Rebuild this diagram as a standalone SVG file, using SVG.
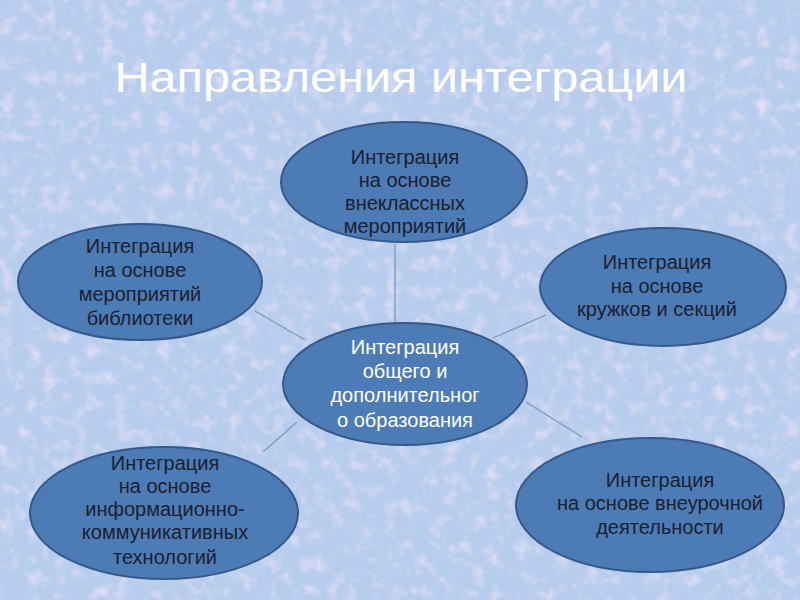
<svg xmlns="http://www.w3.org/2000/svg" width="800" height="600" viewBox="0 0 800 600">
<defs>
<filter id="tex" x="0" y="0" width="100%" height="100%">
<feTurbulence type="fractalNoise" baseFrequency="0.07" numOctaves="3" seed="7" result="n"/>
<feColorMatrix in="n" type="matrix" values="0 0 0 0 0.80  0 0 0 0 0.75  0 0 0 0 0.92  1.4 0 -1.4 0 0.0" result="pink"/>
<feComposite in="pink" in2="SourceGraphic" operator="over"/>
</filter>
<style>
.n ellipse{fill:#4c7bb6;stroke:#36598a;stroke-width:2}
.n text{font-family:"Liberation Sans",Arial,sans-serif;font-size:20px;text-anchor:middle;fill:#1c2030}
#center text{fill:#ffffff}
.c line{stroke:#7f98b8;stroke-width:1.3}
.title{font-family:"Liberation Sans",Arial,sans-serif;font-size:43px;fill:#ffffff;text-anchor:middle}
</style>
</defs>
<rect width="800" height="600" fill="#b8cdee" filter="url(#tex)"/>
<text class="title" x="401" y="92" textLength="573" lengthAdjust="spacingAndGlyphs">Направления интеграции</text>
<g class="c" id="connectors">
<line x1="395" y1="244" x2="395" y2="322"/>
<line x1="255" y1="311" x2="305" y2="340"/>
<line x1="493" y1="338" x2="546" y2="315"/>
<line x1="526" y1="402" x2="582" y2="437"/>
<line x1="297" y1="422" x2="263" y2="452"/>
</g>
<g class="n" id="top">
<ellipse cx="404" cy="182" rx="123" ry="60"/>
<text x="405" y="164">Интеграция</text>
<text x="405" y="187">на основе</text>
<text x="405" y="210">внеклассных</text>
<text x="405" y="233">мероприятий</text>
</g>
<g class="n" id="left">
<ellipse cx="140" cy="282" rx="122" ry="58"/>
<text x="140" y="253">Интеграция</text>
<text x="140" y="277">на основе</text>
<text x="140" y="301">мероприятий</text>
<text x="140" y="325">библиотеки</text>
</g>
<g class="n" id="right">
<ellipse cx="663" cy="287" rx="123" ry="59"/>
<text x="657" y="269">Интеграция</text>
<text x="657" y="293">на основе</text>
<text x="657" y="316">кружков и секций</text>
</g>
<g class="n" id="center">
<ellipse cx="405" cy="384" rx="122" ry="61"/>
<text x="405" y="354">Интеграция</text>
<text x="405" y="378">общего и</text>
<text x="405" y="402">дополнительног</text>
<text x="405" y="427">о образования</text>
</g>
<g class="n" id="bottomleft">
<ellipse cx="164" cy="513" rx="134" ry="66"/>
<text x="165" y="470">Интеграция</text>
<text x="165" y="493">на основе</text>
<text x="165" y="516">информационно-</text>
<text x="165" y="539">коммуникативных</text>
<text x="165" y="564">технологий</text>
</g>
<g class="n" id="bottomright">
<ellipse cx="650" cy="505" rx="134" ry="67"/>
<text x="660" y="487">Интеграция</text>
<text x="660" y="510">на основе внеурочной</text>
<text x="660" y="534">деятельности</text>
</g>
</svg>
